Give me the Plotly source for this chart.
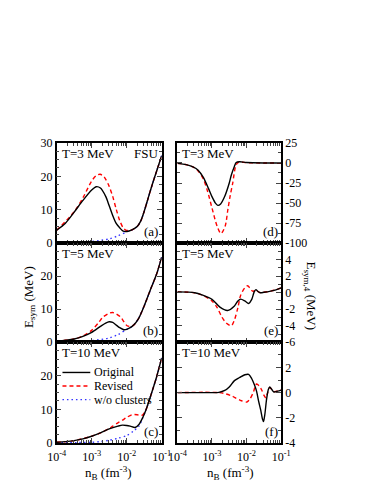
import plotly.graph_objects as go

# ---------------- data (log10 of n_B in fm^-3, and energies in MeV) ----------------
# (a) T = 3 MeV, E_sym
a_orig_lg = [-4.0, -3.75, -3.5, -3.25, -3.0, -2.87, -2.75, -2.6, -2.5, -2.4, -2.3, -2.2, -2.1, -2.0,
             -1.85, -1.7, -1.6, -1.5, -1.4, -1.3, -1.2, -1.1, -1.0]
a_orig = [3.9, 6.0, 9.3, 12.8, 15.9, 16.9, 16.5, 14.0, 11.2, 8.3, 5.9, 4.6, 3.6, 3.5,
          4.0, 5.0, 6.6, 9.5, 13.0, 16.5, 19.8, 23.0, 26.2]
a_rev_lg = [-4.0, -3.5, -3.25, -3.0, -2.87, -2.76, -2.65, -2.5, -2.4, -2.3, -2.2, -2.1, -2.03, -1.95,
            -1.85, -1.7, -1.6, -1.5, -1.4, -1.3, -1.2, -1.1, -1.0]
a_rev = [3.9, 9.4, 13.6, 18.6, 20.2, 20.6, 19.9, 17.0, 14.0, 10.2, 6.8, 4.6, 3.9, 3.8,
         4.0, 5.0, 6.6, 9.5, 13.0, 16.5, 19.8, 23.0, 26.2]
a_free_lg = [-4.0, -3.5, -3.0, -2.5, -2.25, -2.0, -1.85, -1.7, -1.6, -1.5, -1.4, -1.3, -1.2, -1.1, -1.0]
a_free = [0.1, 0.2, 0.5, 1.3, 2.2, 3.4, 4.0, 5.0, 6.6, 9.5, 13.0, 16.5, 19.8, 23.0, 26.2]

# (b) T = 5 MeV, E_sym
b_orig_lg = [-4.0, -3.75, -3.5, -3.25, -3.0, -2.75, -2.6, -2.5, -2.4, -2.3, -2.2, -2.08, -2.0,
             -1.9, -1.8, -1.67, -1.5, -1.3, -1.15, -1.0]
b_orig = [0.3, 0.6, 1.0, 1.8, 3.0, 4.8, 5.8, 6.2, 6.0, 5.2, 4.4, 3.8, 3.9,
          4.4, 5.2, 7.0, 11.0, 16.5, 20.5, 25.8]
b_rev_lg = [-4.0, -3.5, -3.25, -3.0, -2.8, -2.67, -2.5, -2.4, -2.3, -2.17, -2.08, -1.99, -1.9,
            -1.8, -1.67, -1.5, -1.3, -1.15, -1.0]
b_rev = [0.3, 1.0, 1.9, 3.6, 6.0, 7.7, 8.8, 9.0, 8.6, 7.6, 6.2, 5.0, 4.8,
         5.2, 7.0, 11.0, 16.5, 20.5, 25.8]
b_free_lg = [-4.0, -3.5, -3.0, -2.5, -2.25, -2.0, -1.9, -1.8, -1.67, -1.5, -1.3, -1.15, -1.0]
b_free = [0.1, 0.2, 0.5, 1.3, 2.3, 3.9, 4.4, 5.2, 7.0, 11.0, 16.5, 20.5, 25.8]

# (c) T = 10 MeV, E_sym
c_orig_lg = [-4.0, -3.75, -3.5, -3.25, -3.0, -2.75, -2.5, -2.25, -2.12, -2.0, -1.9, -1.76, -1.65,
             -1.53, -1.45, -1.3, -1.15, -1.0]
c_orig = [0.2, 0.4, 0.7, 1.2, 2.0, 3.0, 4.2, 5.0, 5.3, 5.2, 5.0, 4.6, 5.5,
          7.8, 9.8, 14.5, 19.5, 25.3]
c_rev_lg = [-4.0, -3.5, -3.0, -2.75, -2.5, -2.4, -2.25, -2.12, -2.0, -1.85, -1.7, -1.62, -1.55,
            -1.48, -1.45, -1.3, -1.15, -1.0]
c_rev = [0.2, 0.7, 2.0, 3.0, 4.3, 5.0, 6.0, 6.8, 7.6, 8.4, 8.4, 8.2, 8.3,
         9.2, 9.8, 14.5, 19.5, 25.3]
c_free_lg = [-4.0, -3.0, -2.75, -2.5, -2.25, -2.0, -1.8, -1.65, -1.55, -1.45, -1.3, -1.15, -1.0]
c_free = [0.05, 0.2, 0.4, 0.8, 1.4, 2.2, 3.6, 5.0, 7.3, 9.8, 14.5, 19.5, 25.3]

# (d) T = 3 MeV, E_sym,4
d_orig_lg = [-4.0, -3.75, -3.55, -3.4, -3.25, -3.1, -3.0, -2.9, -2.83, -2.75, -2.63, -2.5, -2.44,
             -2.35, -2.3, -2.2, -2.0, -1.5, -1.0]
d_orig = [-0.5, -2.0, -5.0, -9.0, -18.0, -32.0, -42.0, -50.0, -52.8, -51.0, -41.5, -25.0, -15.0,
          -4.0, 0.5, 1.5, 0.5, 0.0, 0.0]
d_rev_lg = [-4.0, -3.75, -3.55, -3.4, -3.25, -3.13, -3.0, -2.85, -2.74, -2.62, -2.54, -2.47, -2.4,
            -2.31, -2.25, -2.15, -2.0, -1.5, -1.0]
d_rev = [-0.5, -2.0, -5.0, -10.0, -20.0, -35.0, -56.0, -79.0, -88.0, -79.0, -58.0, -40.0, -25.0,
         -3.0, 0.5, 1.0, 0.3, 0.0, 0.0]

# (e) T = 5 MeV, E_sym,4
e_orig_lg = [-4.0, -3.5, -3.27, -3.0, -2.77, -2.55, -2.35, -2.25, -2.17, -2.05, -1.94, -1.85, -1.78,
             -1.73, -1.67, -1.6, -1.5, -1.3, -1.15, -1.0]
e_orig = [0.1, 0.0, -0.3, -0.8, -1.75, -2.15, -1.6, -1.0, -0.78, -1.0, -1.3, -0.8, 0.1,
          0.38, 0.15, 0.0, 0.05, 0.2, 0.35, 0.6]
e_rev_lg = [-4.0, -3.5, -3.27, -3.0, -2.85, -2.72, -2.58, -2.44, -2.35, -2.25, -2.17, -2.05, -1.97,
            -1.9, -1.83, -1.76, -1.73, -1.67, -1.6, -1.5, -1.3, -1.15, -1.0]
e_rev = [0.1, 0.0, -0.3, -1.0, -1.8, -2.9, -3.7, -4.0, -3.3, -1.8, -0.3, 0.6, 0.85,
         0.55, 0.2, 0.25, 0.38, 0.15, 0.0, 0.05, 0.2, 0.35, 0.6]

# (f) T = 10 MeV, E_sym,4
f_orig_lg = [-4.0, -3.0, -2.8, -2.63, -2.5, -2.35, -2.2, -2.05, -1.94, -1.85, -1.77, -1.71, -1.65,
             -1.59, -1.54, -1.51, -1.47, -1.42, -1.37, -1.33, -1.27, -1.21, -1.1, -1.0]
f_orig = [0.0, 0.0, 0.02, 0.17, 0.45, 0.95, 1.2, 1.42, 1.45, 1.1, 0.6, 0.1, -0.7,
          -1.4, -2.1, -2.3, -1.7, -0.5, 0.25, 0.45, 0.25, 0.05, 0.12, 0.2]
f_rev_lg = [-4.0, -2.8, -2.6, -2.44, -2.3, -2.15, -1.99, -1.9, -1.8, -1.75, -1.71, -1.64, -1.57,
            -1.5, -1.44, -1.4, -1.33, -1.27, -1.2, -1.1, -1.0]
f_rev = [0.0, 0.0, -0.1, -0.25, -0.45, -0.65, -0.75, -0.5, 0.05, 0.5, 0.68, 0.55, 0.25,
         -0.2, -0.42, -0.1, 0.4, 0.25, 0.08, 0.12, 0.2]

x_tickvals = [1e-4, 1e-3, 1e-2, 1e-1]
x_ticktext = ["10<sup>-4</sup>", "10<sup>-3</sup>", "10<sup>-2</sup>", "10<sup>-1</sup>"]
temps = ["T=3 MeV", "T=5 MeV", "T=10 MeV"]
panel_tags = ["(a)", "(b)", "(c)", "(d)", "(e)", "(f)"]
series_names = ["Original", "Revised", "w/o clusters"]

# ---------------- figure ----------------
W, H = 374, 484
FONT = "Liberation Serif"
BLACK, RED, BLUE = "#000000", "#ff0000", "#3333ff"
STYLE = {"solid": (BLACK, "solid"), "dash": (RED, "4px,3px"), "dot": (BLUE, "1.5px,3px")}

def nb(lg):
    return [10 ** v for v in lg]

fig = go.Figure()

def add(lg, y, ax, kind):
    color, dash = STYLE[kind]
    fig.add_trace(go.Scatter(
        x=nb(lg), y=y, xaxis="x" + ax, yaxis="y" + ax, mode="lines",
        line=dict(color=color, dash=dash, width=1.4, shape="spline", smoothing=0.8),
        showlegend=False, hoverinfo="skip"))

# axis numbering: ""=(a) 2=(d) 3=(b) 4=(e) 5=(c) 6=(f)
add(a_free_lg, a_free, "", "dot")
add(a_rev_lg, a_rev, "", "dash")
add(a_orig_lg, a_orig, "", "solid")
add(b_free_lg, b_free, "3", "dot")
add(b_rev_lg, b_rev, "3", "dash")
add(b_orig_lg, b_orig, "3", "solid")
add(c_free_lg, c_free, "5", "dot")
add(c_rev_lg, c_rev, "5", "dash")
add(c_orig_lg, c_orig, "5", "solid")
add(d_rev_lg, d_rev, "2", "dash")
add(d_orig_lg, d_orig, "2", "solid")
add(e_rev_lg, e_rev, "4", "dash")
add(e_orig_lg, e_orig, "4", "solid")
add(f_rev_lg, f_rev, "6", "dash")
add(f_orig_lg, f_orig, "6", "solid")

xl = [41.7 / W, 152 / W]
xr = [168.5 / W, 277.5 / W]
rows = [[1 - 235 / H, 1 - 131.7 / H], [1 - 337 / H, 1 - 235 / H], [1 - 440.7 / H, 1 - 337 / H]]

minor_x = [k * 10 ** e for e in (-4, -3, -2) for k in range(2, 10)]
tickfont = dict(family=FONT, size=12, color="black")

def xaxis(dom, anchor, bottom):
    return dict(type="log", range=[-4, -1], domain=dom, anchor=anchor,
                tickmode="array", tickvals=x_tickvals, ticktext=x_ticktext,
                showticklabels=bottom, ticks="inside", ticklen=5, tickwidth=1,
                ticklabelstandoff=2,
                mirror="allticks", showline=True, linecolor="black", linewidth=1.5,
                showgrid=False, zeroline=False, tickfont=tickfont,
                minor=dict(tickmode="array", tickvals=minor_x, ticks="inside",
                           ticklen=3, tickwidth=1, showgrid=False))

def yaxis(dom, anchor, rng, tv, tt, side, mdt):
    return dict(range=rng, domain=dom, anchor=anchor, side=side,
                tickmode="array", tickvals=tv, ticktext=tt,
                ticks="inside", ticklen=5, tickwidth=1,
                mirror="allticks", showline=True, linecolor="black", linewidth=1.5,
                showgrid=False, zeroline=False, tickfont=tickfont,
                minor=dict(dtick=mdt, tick0=0, ticks="inside", ticklen=3, tickwidth=1,
                           showgrid=False))

lay = {}
lay["xaxis"] = xaxis(xl, "y", False)
lay["yaxis"] = yaxis(rows[0], "x", [0, 30], [0, 10, 20, 30], ["0", "10", "20", "30"], "left", 2.5)
lay["xaxis3"] = xaxis(xl, "y3", False)
lay["yaxis3"] = yaxis(rows[1], "x3", [0, 30], [0, 10, 20, 30], ["0", "10", "20", ""], "left", 2.5)
lay["xaxis5"] = xaxis(xl, "y5", True)
lay["yaxis5"] = yaxis(rows[2], "x5", [0, 30], [0, 10, 20, 30], ["0", "10", "20", ""], "left", 2.5)
lay["xaxis2"] = xaxis(xr, "y2", False)
lay["yaxis2"] = yaxis(rows[0], "x2", [-100, 25], [-100, -75, -50, -25, 0, 25],
                      ["-100", "-75", "-50", "-25", "0", "25"], "right", 12.5)
lay["xaxis4"] = xaxis(xr, "y4", False)
lay["yaxis4"] = yaxis(rows[1], "x4", [-6, 6], [-6, -4, -2, 0, 2, 4, 6],
                      ["-6", "-4", "-2", "0", "2", "4", ""], "right", 1)
lay["xaxis6"] = xaxis(xr, "y6", True)
lay["yaxis6"] = yaxis(rows[2], "x6", [-4, 4], [-4, -2, 0, 2, 4],
                      ["-4", "-2", "0", "2", ""], "right", 1)

ann = []
shapes = []
afont = dict(family=FONT, size=13, color="black")
left_axes = ["", "3", "5"]
right_axes = ["2", "4", "6"]
for i in range(3):
    for ax, xpos in ((left_axes[i], 0.035), (right_axes[i], 0.025)):
        ann.append(dict(text=temps[i], xref=("x" + ax + " domain"), yref=("y" + ax + " domain"),
                        x=xpos, y=0.99, xanchor="left", yanchor="top", showarrow=False, font=afont))
for ax, tag in zip(["", "3", "5", "2", "4", "6"], panel_tags):
    ann.append(dict(text=tag, xref="x" + ax + " domain", yref="y" + ax + " domain",
                    x=0.985, y=0.02, xanchor="right", yanchor="bottom", showarrow=False, font=afont))
ann.append(dict(text="FSU", xref="x domain", yref="y domain", x=0.985, y=0.99,
                xanchor="right", yanchor="top", showarrow=False, font=afont))
ann.append(dict(text="E<sub>sym</sub> (MeV)", xref="paper", yref="paper",
                x=13 / W, y=1 - 290 / H, xanchor="center", yanchor="middle",
                textangle=-90, showarrow=False, font=afont))
ann.append(dict(text="E<sub>sym,4</sub> (MeV)", xref="paper", yref="paper",
                x=308 / W, y=1 - 289 / H, xanchor="center", yanchor="middle",
                textangle=90, showarrow=False, font=afont))
for cx in (96 / W, 224 / W):
    ann.append(dict(text="n<sub>B</sub> (fm<sup>-3</sup>)", xref="paper", yref="paper",
                    x=cx, y=1 - 472 / H, xanchor="center", yanchor="middle",
                    showarrow=False, font=afont))

# legend keys inside panel (c)
leg_y = [0.70, 0.565, 0.43]
for name, kind, ly in zip(series_names, ["solid", "dash", "dot"], leg_y):
    color, dash = STYLE[kind]
    shapes.append(dict(type="line", xref="x5 domain", yref="y5 domain",
                       x0=0.055, x1=0.32, y0=ly, y1=ly,
                       line=dict(color=color, dash=dash, width=1.4)))
    ann.append(dict(text=name, xref="x5 domain", yref="y5 domain", x=0.335, y=ly,
                    xanchor="left", yanchor="middle", showarrow=False,
                    font=dict(family=FONT, size=12, color="black")))

fig.update_layout(
    width=W, height=H, margin=dict(l=0, r=0, t=0, b=0),
    paper_bgcolor="white", plot_bgcolor="white",
    font=dict(family=FONT, size=12, color="black"),
    annotations=ann, shapes=shapes, showlegend=False,
    **lay)

fig.write_html("out.html")
